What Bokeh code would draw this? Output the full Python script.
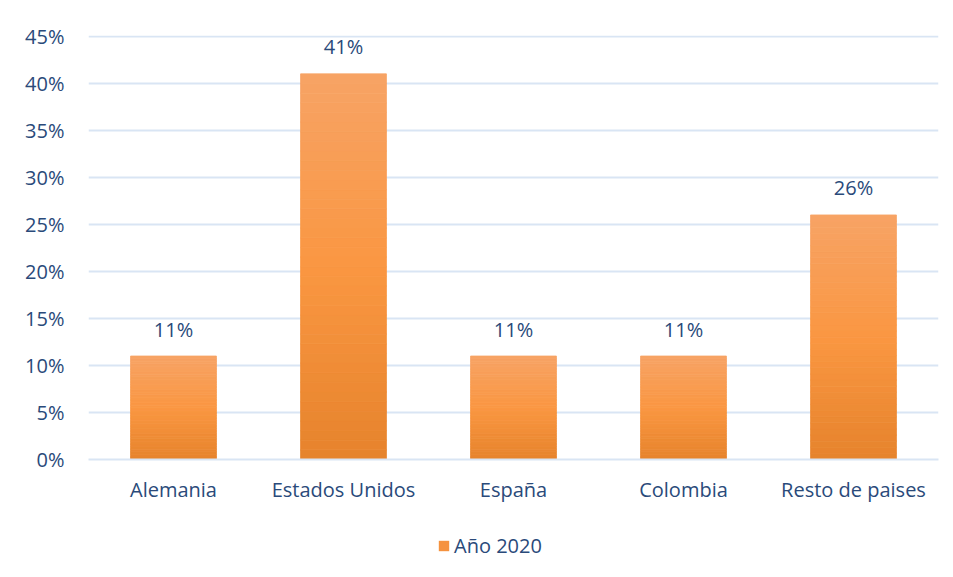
from bokeh.plotting import figure
from bokeh.layouts import column
from bokeh.models import FactorRange, NumeralTickFormatter, Legend, LegendItem, ColumnDataSource, FixedTicker
from bokeh.embed import file_html
from bokeh.resources import INLINE
from bokeh.core.properties import value

categories = ["Alemania", "Estados Unidos", "España", "Colombia", "Resto de paises"]
values = [0.11, 0.41, 0.11, 0.11, 0.26]
labels = ["11%", "41%", "11%", "11%", "26%"]
series_name = "Año 2020"
y_ticks = [0.0, 0.05, 0.10, 0.15, 0.20, 0.25, 0.30, 0.35, 0.40, 0.45]

FONT = "Open Sans"
TXT = "#2A4A7A"
GRID = "#D9E5F4"

p = figure(width=945, height=510, x_range=FactorRange(*categories), y_range=(0, 0.4508),
           output_backend="svg", toolbar_location=None,
           min_border_left=88, min_border_top=35, min_border_right=7, min_border_bottom=51)
p.outline_line_color = None

# gradient bars built from thin strips of each data value
stops = [(0.0, (0xE6, 0x83, 0x2C)), (0.5, (0xFA, 0x97, 0x42)), (1.0, (0xF7, 0xA3, 0x65))]

def grad(t):
    for (t0, c0), (t1, c1) in zip(stops[:-1], stops[1:]):
        if t0 <= t <= t1:
            f = (t - t0) / (t1 - t0)
            return "#%02x%02x%02x" % tuple(int(round(a + (b - a) * f)) for a, b in zip(c0, c1))
    return "#%02x%02x%02x" % stops[-1][1]

N = 40
xs, tops, bots, cols = [], [], [], []
for c, v in zip(categories, values):
    for k in range(N):
        xs.append(c)
        bots.append(v * k / N)
        tops.append(v * (k + 1) / N)
        cols.append(grad((k + 0.5) / N))
p.vbar(x=xs, top=tops, bottom=bots, width=0.505, fill_color=cols, line_color=cols, line_width=0.8)

src = ColumnDataSource(dict(x=categories, y=values, t=labels))
p.text(x="x", y="y", text="t", source=src, text_align="center", text_baseline="middle",
       y_offset=-27, text_font=value(FONT), text_font_size="20px", text_color=TXT)

p.yaxis.ticker = FixedTicker(ticks=y_ticks)
p.yaxis.formatter = NumeralTickFormatter(format="0%")
p.yaxis.axis_line_color = None
p.yaxis.major_tick_line_color = None
p.yaxis.minor_tick_line_color = None
p.yaxis.major_label_standoff = 18
p.yaxis.major_label_text_font = FONT
p.yaxis.major_label_text_font_size = "20px"
p.yaxis.major_label_text_color = TXT

p.xaxis.axis_line_color = GRID
p.xaxis.axis_line_width = 2
p.xaxis.major_tick_line_color = None
p.xaxis.minor_tick_line_color = None
p.xaxis.major_label_standoff = 10
p.xaxis.major_label_text_font = FONT
p.xaxis.major_label_text_font_size = "20px"
p.xaxis.major_label_text_color = TXT

p.xgrid.grid_line_color = None
p.ygrid.grid_line_color = GRID
p.ygrid.grid_line_width = 2

# legend strip below the chart
p2 = figure(width=945, height=60, x_range=(0, 1), y_range=(0, 1), output_backend="svg",
            toolbar_location=None, min_border=0)
p2.axis.visible = False
p2.grid.visible = False
p2.outline_line_color = None
swatch = p2.quad(left=[0], right=[0], top=[0], bottom=[0], fill_color="#F5923F", line_color=None)
legend = Legend(items=[LegendItem(label=series_name, renderers=[swatch])], location=(349, 11),
                orientation="horizontal", border_line_color=None, background_fill_alpha=0,
                label_text_font=FONT, label_text_font_size="20px", label_text_color=TXT,
                glyph_width=13, glyph_height=13, label_standoff=4, padding=0, margin=0)
p2.add_layout(legend, "center")

open("out.html", "w").write(file_html(column(p, p2, spacing=0), INLINE))
